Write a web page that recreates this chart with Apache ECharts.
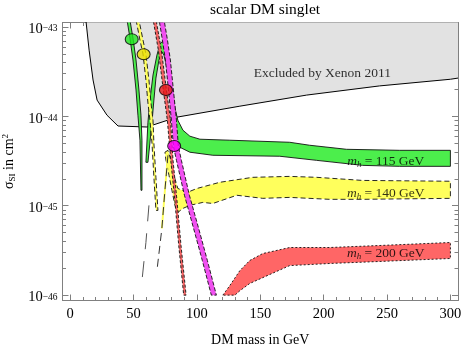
<!DOCTYPE html>
<html>
<head>
<meta charset="utf-8">
<title>scalar DM singlet</title>
<script src="https://cdn.jsdelivr.net/npm/echarts@6/dist/echarts.min.js"></script>
<style>
  html, body { margin: 0; padding: 0; background: #fff; }
  #chart { width: 463px; height: 345px; }
</style>
</head>
<body>
<div id="chart"></div>
<script>
// [DM mass in GeV, sigma_SI in cm^2]
var xenon2011 = [[12.6, 1.14e-43], [15.0, 5.5e-44], [18.1, 2.55e-44], [21.3, 1.52e-44], [29.1, 1.03e-44],
  [37.8, 7.8e-45], [60.6, 7.6e-45], [84.3, 9.8e-45], [133.9, 1.3e-44], [186.6, 1.73e-44],
  [244, 2.19e-44], [300, 2.6e-44], [306, 2.68e-44]];

// mh = 115 GeV
var greenStrip = [[44.9, 1.2e-43], [47.2, 7.5e-44], [49.6, 4.27e-44], [52.0, 1.97e-44], [53.5, 1.03e-44],
  [55.1, 5.41e-45], [55.9, 1.49e-45], [56.7, 1.49e-45], [56.7, 5.41e-45], [55.9, 1.03e-44],
  [54.3, 1.97e-44], [52.0, 4.27e-44], [49.6, 7.5e-44], [47.2, 1.2e-43]];
var greenBand = [[59.8, 3.06e-45], [61.4, 8.6e-45], [63.0, 1.52e-44], [65.4, 2.9e-44], [68.5, 4.85e-44],
  [70.9, 6.45e-44], [73.2, 6.97e-44], [75.6, 6.12e-44], [78.0, 4.05e-44], [80.3, 2.24e-44],
  [82.7, 1.24e-44], [85.0, 9.06e-45], [89.0, 7.0e-45], [94.5, 6.0e-45], [102.4, 5.55e-45],
  [126, 5.41e-45], [173.2, 5.13e-45], [189, 4.75e-45], [218.1, 4.28e-45], [259.8, 4.17e-45],
  [300, 4.17e-45], [300, 2.76e-45], [259.8, 2.76e-45], [230.7, 2.83e-45], [194.5, 3.22e-45],
  [165.4, 3.58e-45], [112.6, 3.67e-45], [94.5, 3.97e-45], [86.6, 4.51e-45], [83.5, 5.41e-45],
  [81.1, 1.03e-44], [78.7, 1.97e-44], [76.4, 3.47e-44], [74.0, 4.85e-44], [72.4, 5.25e-44],
  [70.1, 4.27e-44], [67.7, 2.68e-44], [66.1, 1.52e-44], [64.6, 8.6e-45], [61.4, 3.06e-45]];

// mh = 140 GeV
var yellowStrip = [[52.0, 1.2e-43], [55.1, 7.15e-44], [57.5, 4.98e-44], [59.8, 2.55e-44], [61.4, 1.41e-44],
  [63.0, 9.06e-45], [64.6, 5.0e-45], [66.1, 2.08e-45], [67.7, 8.87e-46], [69.3, 8.87e-46],
  [67.7, 2.08e-45], [66.1, 5.0e-45], [65.4, 9.06e-45], [63.8, 1.41e-44], [62.2, 2.55e-44],
  [59.8, 4.98e-44], [57.5, 7.15e-44], [54.3, 1.2e-43]];
var yellowBand = [[74.8, 3.97e-45], [77.2, 4.17e-45], [79.5, 3.22e-45], [81.9, 2.19e-45], [85.0, 1.56e-45],
  [90.6, 1.45e-45], [94.5, 1.45e-45], [100, 1.56e-45], [118.1, 1.83e-45], [144.1, 2.08e-45],
  [173.2, 2.13e-45], [194.5, 2.08e-45], [230.7, 1.92e-45], [300, 1.88e-45], [300, 1.21e-45],
  [230.7, 1.18e-45], [204.7, 1.18e-45], [173.2, 1.24e-45], [152, 1.21e-45], [131.5, 1.31e-45],
  [112.6, 1.06e-45], [104.7, 1.09e-45], [94.5, 1.01e-45], [89.0, 9.34e-46], [85.0, 8.42e-46],
  [82.7, 1.01e-45], [80.3, 1.49e-45], [78.0, 2.19e-45], [75.6, 3.22e-45]];
var yellowLegB = [[77.2, 3.67e-45], [74.8, 1.49e-45], [72.4, 5.57e-46], [68.5, 1.88e-46]];
var yellowLegA = [[62.2, 1.01e-45], [59.8, 3.88e-46], [56.7, 1.45e-46]];

// mh = 200 GeV
var redStrip = [[65.8, 1.14e-43], [69.6, 5.52e-44], [73.5, 1.97e-44], [76.7, 9.06e-45], [79.4, 3.22e-45],
  [82.6, 1.15e-45], [85.7, 3.59e-46], [89.6, 1.0e-46], [91.5, 1.0e-46], [87.5, 3.59e-46],
  [84.3, 1.15e-45], [81.2, 3.22e-45], [79.2, 9.06e-45], [76.0, 1.97e-44], [72.0, 5.52e-44],
  [68.1, 1.14e-43]];
var redBand = [[120.5, 1.0e-46], [126, 1.28e-46], [133.9, 1.88e-46], [141.7, 2.44e-46], [152, 2.92e-46],
  [173.2, 3.41e-46], [204.7, 3.41e-46], [244, 3.59e-46], [300, 3.88e-46], [300, 2.57e-46],
  [244, 2.38e-46], [204.7, 2.26e-46], [173.2, 2.14e-46], [152, 1.57e-46], [141.7, 1.35e-46],
  [133.9, 1.12e-46], [130, 1.0e-46]];

// magenta funnel
var magentaStrip = [[70.5, 1.14e-43], [72.8, 7.15e-44], [75.2, 4.27e-44], [77.6, 1.97e-44], [79.9, 9.06e-45],
  [81.5, 4.63e-45], [83.9, 3.22e-45], [90.2, 1.31e-45], [97.2, 5.72e-46], [104.3, 2.44e-46],
  [111.4, 1.0e-46], [115.4, 1.0e-46], [108.3, 2.44e-46], [101.2, 5.72e-46], [94.1, 1.31e-45],
  [87.8, 3.22e-45], [85.4, 4.63e-45], [83.9, 9.06e-45], [81.5, 1.97e-44], [79.1, 4.27e-44],
  [76.8, 7.15e-44], [74.4, 1.14e-43]];

var dots = [[48.6, 7.3e-44], [58.0, 4.95e-44], [75.6, 1.97e-44], [82.1, 4.66e-45]];
var dotColors = ['#22e622', '#ece000', '#e81818', '#ff00ff'];

var xMajor = [0, 50, 100, 150, 200, 250, 300];
var yDecades = [-46, -45, -44, -43];

var bandLabels = [
  { at: [249, 3.14e-45], text: '{i|m}{sub|h}{t| = 115 GeV}' },
  { at: [249, 1.37e-45], text: '{i|m}{sub|h}{t| = 140 GeV}' },
  { at: [249, 2.92e-46], text: '{i|m}{sub|h}{t| = 200 GeV}' },
  { at: [199, 3.05e-44], text: '{t|Excluded by Xenon 2011}' }
];

var FONT = '"Liberation Serif", "DejaVu Serif", serif';
var GRID = '#808080';

function toLog(pts) {
  return pts.map(function (p) { return [p[0], Math.log10(p[1])]; });
}

var xMinor = [];
for (var i = 10; i < 300; i += 10) { if (i % 50 !== 0) xMinor.push(i); }
var yMinor = [];
yDecades.forEach(function (n) {
  for (var k = 2; k <= 9; k++) {
    var v = n + Math.log10(k);
    if (v < -42.95) yMinor.push(v);
  }
});

function band(pts, fill, dash, z) {
  var line = toLog(pts);
  return {
    type: 'custom', clip: true, silent: true, z: z,
    data: [line[0]],
    renderItem: function (params, api) {
      return {
        type: 'polygon',
        shape: { points: line.map(function (p) { return api.coord(p); }) },
        style: { fill: fill, stroke: '#111', lineWidth: 0.9, lineDash: dash }
      };
    }
  };
}

function dashed(pts, color, width, dash, z) {
  return {
    type: 'line', data: toLog(pts), showSymbol: false, silent: true, z: z,
    lineStyle: { color: color, width: width, type: dash }
  };
}

function xAxisOf(pos, ticks, len, major) {
  return {
    type: 'value', position: pos, min: -6, max: 306,
    axisLine: { show: major, onZero: false, lineStyle: { color: GRID, width: 1 } },
    axisTick: { show: true, inside: true, length: len, customValues: ticks, lineStyle: { color: GRID } },
    axisLabel: { show: false },
    splitLine: { show: false }
  };
}
function yAxisOf(pos, ticks, len, major) {
  return {
    type: 'value', position: pos, min: -46.06, max: -42.95,
    axisLine: { show: major, onZero: false, lineStyle: { color: GRID, width: 1 } },
    axisTick: { show: true, inside: true, length: len, customValues: ticks, lineStyle: { color: GRID } },
    axisLabel: { show: false },
    splitLine: { show: false }
  };
}

var xAxes = [xAxisOf('bottom', xMajor, 6, true), xAxisOf('bottom', xMinor, 3.5, false),
  xAxisOf('top', xMajor, 6, true), xAxisOf('top', xMinor, 3.5, false)];
xAxes[0].axisLabel = {
  show: true, customValues: xMajor, margin: 6, color: '#000', fontFamily: FONT, fontSize: 14.5
};
xAxes[0].name = 'DM mass in GeV';
xAxes[0].nameLocation = 'middle';
xAxes[0].nameGap = 33;
xAxes[0].nameTextStyle = { color: '#000', fontFamily: FONT, fontSize: 14 };

var yAxes = [yAxisOf('left', yDecades, 6, true), yAxisOf('left', yMinor, 3.5, false),
  yAxisOf('right', yDecades, 6, true), yAxisOf('right', yMinor, 3.5, false)];
yAxes[0].axisLabel = {
  show: true, customValues: yDecades, margin: 5,
  formatter: function (v) { return '{b|10}{s|\u2212' + Math.abs(Math.round(v)) + '}'; },
  rich: {
    b: { fontFamily: FONT, fontSize: 14.5, lineHeight: 14, color: '#000', padding: [5, 0, 0, 0] },
    s: { fontFamily: FONT, fontSize: 9.5, lineHeight: 9, color: '#000', verticalAlign: 'top', padding: [4, 0, 0, 0] }
  }
};
yAxes[0].name = '{n|\u03c3}{sub|SI}{n| in cm}{sup|2}';
yAxes[0].nameLocation = 'middle';
yAxes[0].nameGap = 42;
yAxes[0].nameTextStyle = {
  rich: {
    n: { fontFamily: FONT, fontSize: 14, lineHeight: 16, color: '#000' },
    sub: { fontFamily: FONT, fontSize: 9, lineHeight: 9, color: '#000', verticalAlign: 'bottom' },
    sup: { fontFamily: FONT, fontSize: 9, lineHeight: 9, color: '#000', verticalAlign: 'top' }
  }
};

var chart = echarts.init(document.getElementById('chart'), null, { renderer: 'canvas' });

chart.setOption({
  animation: false,
  backgroundColor: '#fff',
  title: {
    text: 'scalar DM singlet', left: 260, top: -3, textAlign: 'center',
    textStyle: { fontFamily: FONT, fontSize: 15.5, fontWeight: 'normal', color: '#000' }
  },
  grid: { left: 62.5, right: 5, top: 22.5, bottom: 44.5, containLabel: false, outerBoundsMode: 'none' },
  xAxis: xAxes,
  yAxis: yAxes,
  series: [
    {
      type: 'line', data: toLog(xenon2011), showSymbol: false, silent: true, z: 1,
      lineStyle: { color: '#000', width: 1 },
      areaStyle: { origin: 'end', color: '#e2e2e2', opacity: 1 }
    },
    band(greenStrip, '#4cee4c', null, 2),
    band(greenBand, '#4cee4c', null, 2),
    band(yellowStrip, '#ffff5c', [5, 3], 3),
    band(yellowBand, '#ffff5c', [5, 3], 3),
    dashed(yellowLegB.slice(0, 3), '#ffff5c', 2, 'solid', 3),
    dashed(yellowLegB, '#333', 1, [8, 5], 3),
    dashed(yellowLegA, '#555', 1, [16, 12], 3),
    band(redBand, '#ff6666', [2, 2], 4),
    band(redStrip, '#f26262', [3, 2], 4),
    band(magentaStrip, '#f050f0', [4, 2], 5),
    {
      type: 'scatter', z: 10, silent: true, symbol: 'circle', symbolSize: [13, 11],
      data: toLog(dots).map(function (p, k) {
        return { value: p, itemStyle: { color: dotColors[k], borderColor: '#000', borderWidth: 1 } };
      })
    },
    {
      type: 'scatter', z: 11, silent: true, symbolSize: 0,
      data: bandLabels.map(function (l) {
        return { value: [l.at[0], Math.log10(l.at[1])], label: { formatter: l.text } };
      }),
      label: {
        show: true, position: 'inside', color: '#000',
        rich: {
          i: { fontFamily: FONT, fontSize: 13.5, fontStyle: 'italic', lineHeight: 15, color: '#000' },
          sub: { fontFamily: FONT, fontSize: 9, fontStyle: 'italic', lineHeight: 9, verticalAlign: 'bottom', color: '#000' },
          t: { fontFamily: FONT, fontSize: 13.5, lineHeight: 15, color: '#000' }
        }
      }
    }
  ]
});
</script>
</body>
</html>
